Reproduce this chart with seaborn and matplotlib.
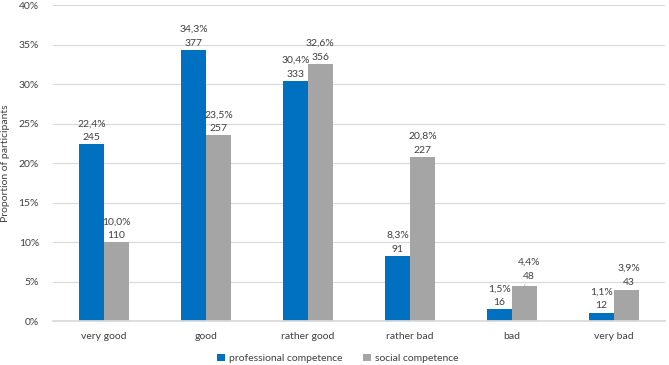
import matplotlib
matplotlib.use("Agg")
import matplotlib.pyplot as plt
import seaborn as sns
import pandas as pd

categories = ["very good", "good", "rather good", "rather bad", "bad", "very bad"]
series = ["professional competence", "social competence"]
professional_pct = [22.4, 34.3, 30.4, 8.3, 1.5, 1.1]
professional_n = [245, 377, 333, 91, 16, 12]
social_pct = [10.0, 23.5, 32.6, 20.8, 4.4, 3.9]
social_n = [110, 257, 356, 227, 48, 43]
yticks = [0, 5, 10, 15, 20, 25, 30, 35, 40]

rows = []
for c, p, n in zip(categories, professional_pct, professional_n):
    rows.append({"cat": c, "series": series[0], "pct": p, "n": n})
for c, p, n in zip(categories, social_pct, social_n):
    rows.append({"cat": c, "series": series[1], "pct": p, "n": n})
df = pd.DataFrame(rows)

sns.set_theme(style="white")
plt.rcParams["font.family"] = ["Lato", "DejaVu Sans"]
text_color = "#404040"
fs = 7.5

fig = plt.figure(figsize=(6.69, 3.65), dpi=100)
ax = fig.add_axes([0.079, 0.12, 0.915, 0.866])

palette = {series[0]: "#0070C0", series[1]: "#A5A5A5"}
sns.barplot(data=df, x="cat", y="pct", hue="series", order=categories,
            hue_order=series, palette=palette, width=0.49, ax=ax,
            saturation=1, legend=True, linewidth=0)

ax.set_ylim(0, 40)
ax.set_yticks(yticks)
ax.set_yticklabels([f"{t}%" for t in yticks], fontsize=fs, color=text_color)
ax.yaxis.grid(True, color="#D9D9D9", linewidth=0.8)
ax.set_axisbelow(True)
for s in ["top", "right", "left"]:
    ax.spines[s].set_visible(False)
ax.spines["bottom"].set_color("#D9D9D9")
ax.tick_params(axis="x", labelsize=fs, colors=text_color, length=0, pad=8)
ax.tick_params(axis="y", length=0, pad=10)
ax.set_xlabel("")
ax.set_ylabel("Proportion of participants", fontsize=fs, color=text_color, labelpad=6)
ax.set_xlim(-0.5, 5.5)

# labels
special = {("bad", 1): (3.5, 4, True), ("very bad", 1): (1.5, 2.5, True)}
for si, (s, pcts, ns) in enumerate([(series[0], professional_pct, professional_n),
                                      (series[1], social_pct, social_n)]):
    cont = ax.containers[si]
    for ci, (bar, p, n) in enumerate(zip(cont, pcts, ns)):
        x = bar.get_x() + bar.get_width() / 2
        y = bar.get_height()
        dx, dy, line = special.get((categories[ci], si), (0, 1.5, False))
        label = f"{p:.1f}%".replace(".", ",") + f"\n{n}"
        ax.annotate(label, xy=(x, y), xytext=(dx, dy), textcoords="offset points",
                    ha="center", va="bottom", fontsize=fs, color=text_color,
                    linespacing=1.7,
                    arrowprops=dict(arrowstyle="-", color="#A6A6A6", lw=0.5,
                                    shrinkA=0, shrinkB=0) if line else None)

handles, labels = ax.get_legend_handles_labels()
ax.get_legend().remove()
leg = fig.legend(handles, labels, loc="center", bbox_to_anchor=(0.505, 0.018), ncol=2,
                 frameon=False, fontsize=fs, handlelength=0.7, handleheight=0.7,
                 columnspacing=2.0, handletextpad=0.4, borderpad=0.1)
for t in leg.get_texts():
    t.set_color(text_color)

fig.savefig("out.png", dpi=100)
